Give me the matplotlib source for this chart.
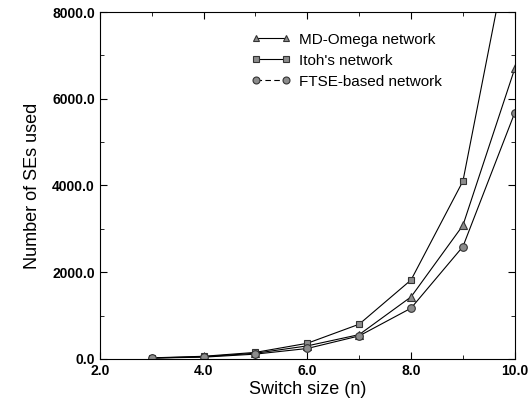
import matplotlib
matplotlib.use("Agg")
import matplotlib.pyplot as plt
from matplotlib.lines import Line2D
from matplotlib.ticker import MultipleLocator, FormatStrFormatter

plt.rcParams['font.family'] = ['Liberation Sans', 'DejaVu Sans']

n = [3, 4, 5, 6, 7, 8, 9, 10]
md_omega = [20, 50, 130, 300, 560, 1430, 3080, 6700]
itoh = [24, 60, 150, 360, 800, 1820, 4100, 10200]
ftse = [18, 40, 110, 240, 530, 1170, 2590, 5680]
labels = ['MD-Omega network', "Itoh's network", 'FTSE-based network']

fig = plt.figure(figsize=(5.28, 4.01), dpi=100)
ax = fig.add_axes([0.189, 0.105, 0.786, 0.865])

mk = dict(color='black', lw=0.8, mfc='#8c8c8c', mec='#333333', mew=0.8)
ax.plot(n, md_omega, marker='^', ms=5.5, **mk)
ax.plot(n, itoh, marker='s', ms=4.5, **mk)
ax.plot(n, ftse, marker='o', ms=5.5, **mk)

ax.set_xlim(2, 10)
ax.set_ylim(0, 8000)
ax.xaxis.set_major_locator(MultipleLocator(2))
ax.xaxis.set_minor_locator(MultipleLocator(1))
ax.yaxis.set_major_locator(MultipleLocator(2000))
ax.yaxis.set_minor_locator(MultipleLocator(1000))
ax.xaxis.set_major_formatter(FormatStrFormatter('%.1f'))
ax.yaxis.set_major_formatter(FormatStrFormatter('%.1f'))
ax.tick_params(which='both', direction='in', top=True, right=True,
               labelsize=10)
ax.tick_params(which='major', length=5)
ax.tick_params(which='minor', length=3)
for lab in ax.get_xticklabels() + ax.get_yticklabels():
    lab.set_fontweight('bold')

ax.set_xlabel('Switch size (n)', fontsize=13, labelpad=2)
ax.set_ylabel('Number of SEs used', fontsize=13, labelpad=8)

# legend: markers on both ends, dashed handle for FTSE
handles = [
    Line2D([], [], marker='^', ms=5, **mk),
    Line2D([], [], marker='s', ms=4.5, **mk),
    Line2D([], [], marker='o', ms=5, ls=(0, (5, 3)), **mk),
]
ax.legend(handles, labels, loc='upper left', bbox_to_anchor=(0.365, 0.94),
          frameon=False, fontsize=11, numpoints=2, handlelength=2.6,
          handletextpad=0.5, labelspacing=0.45, borderaxespad=0,
          borderpad=0)

fig.savefig('out.png', dpi=100)
